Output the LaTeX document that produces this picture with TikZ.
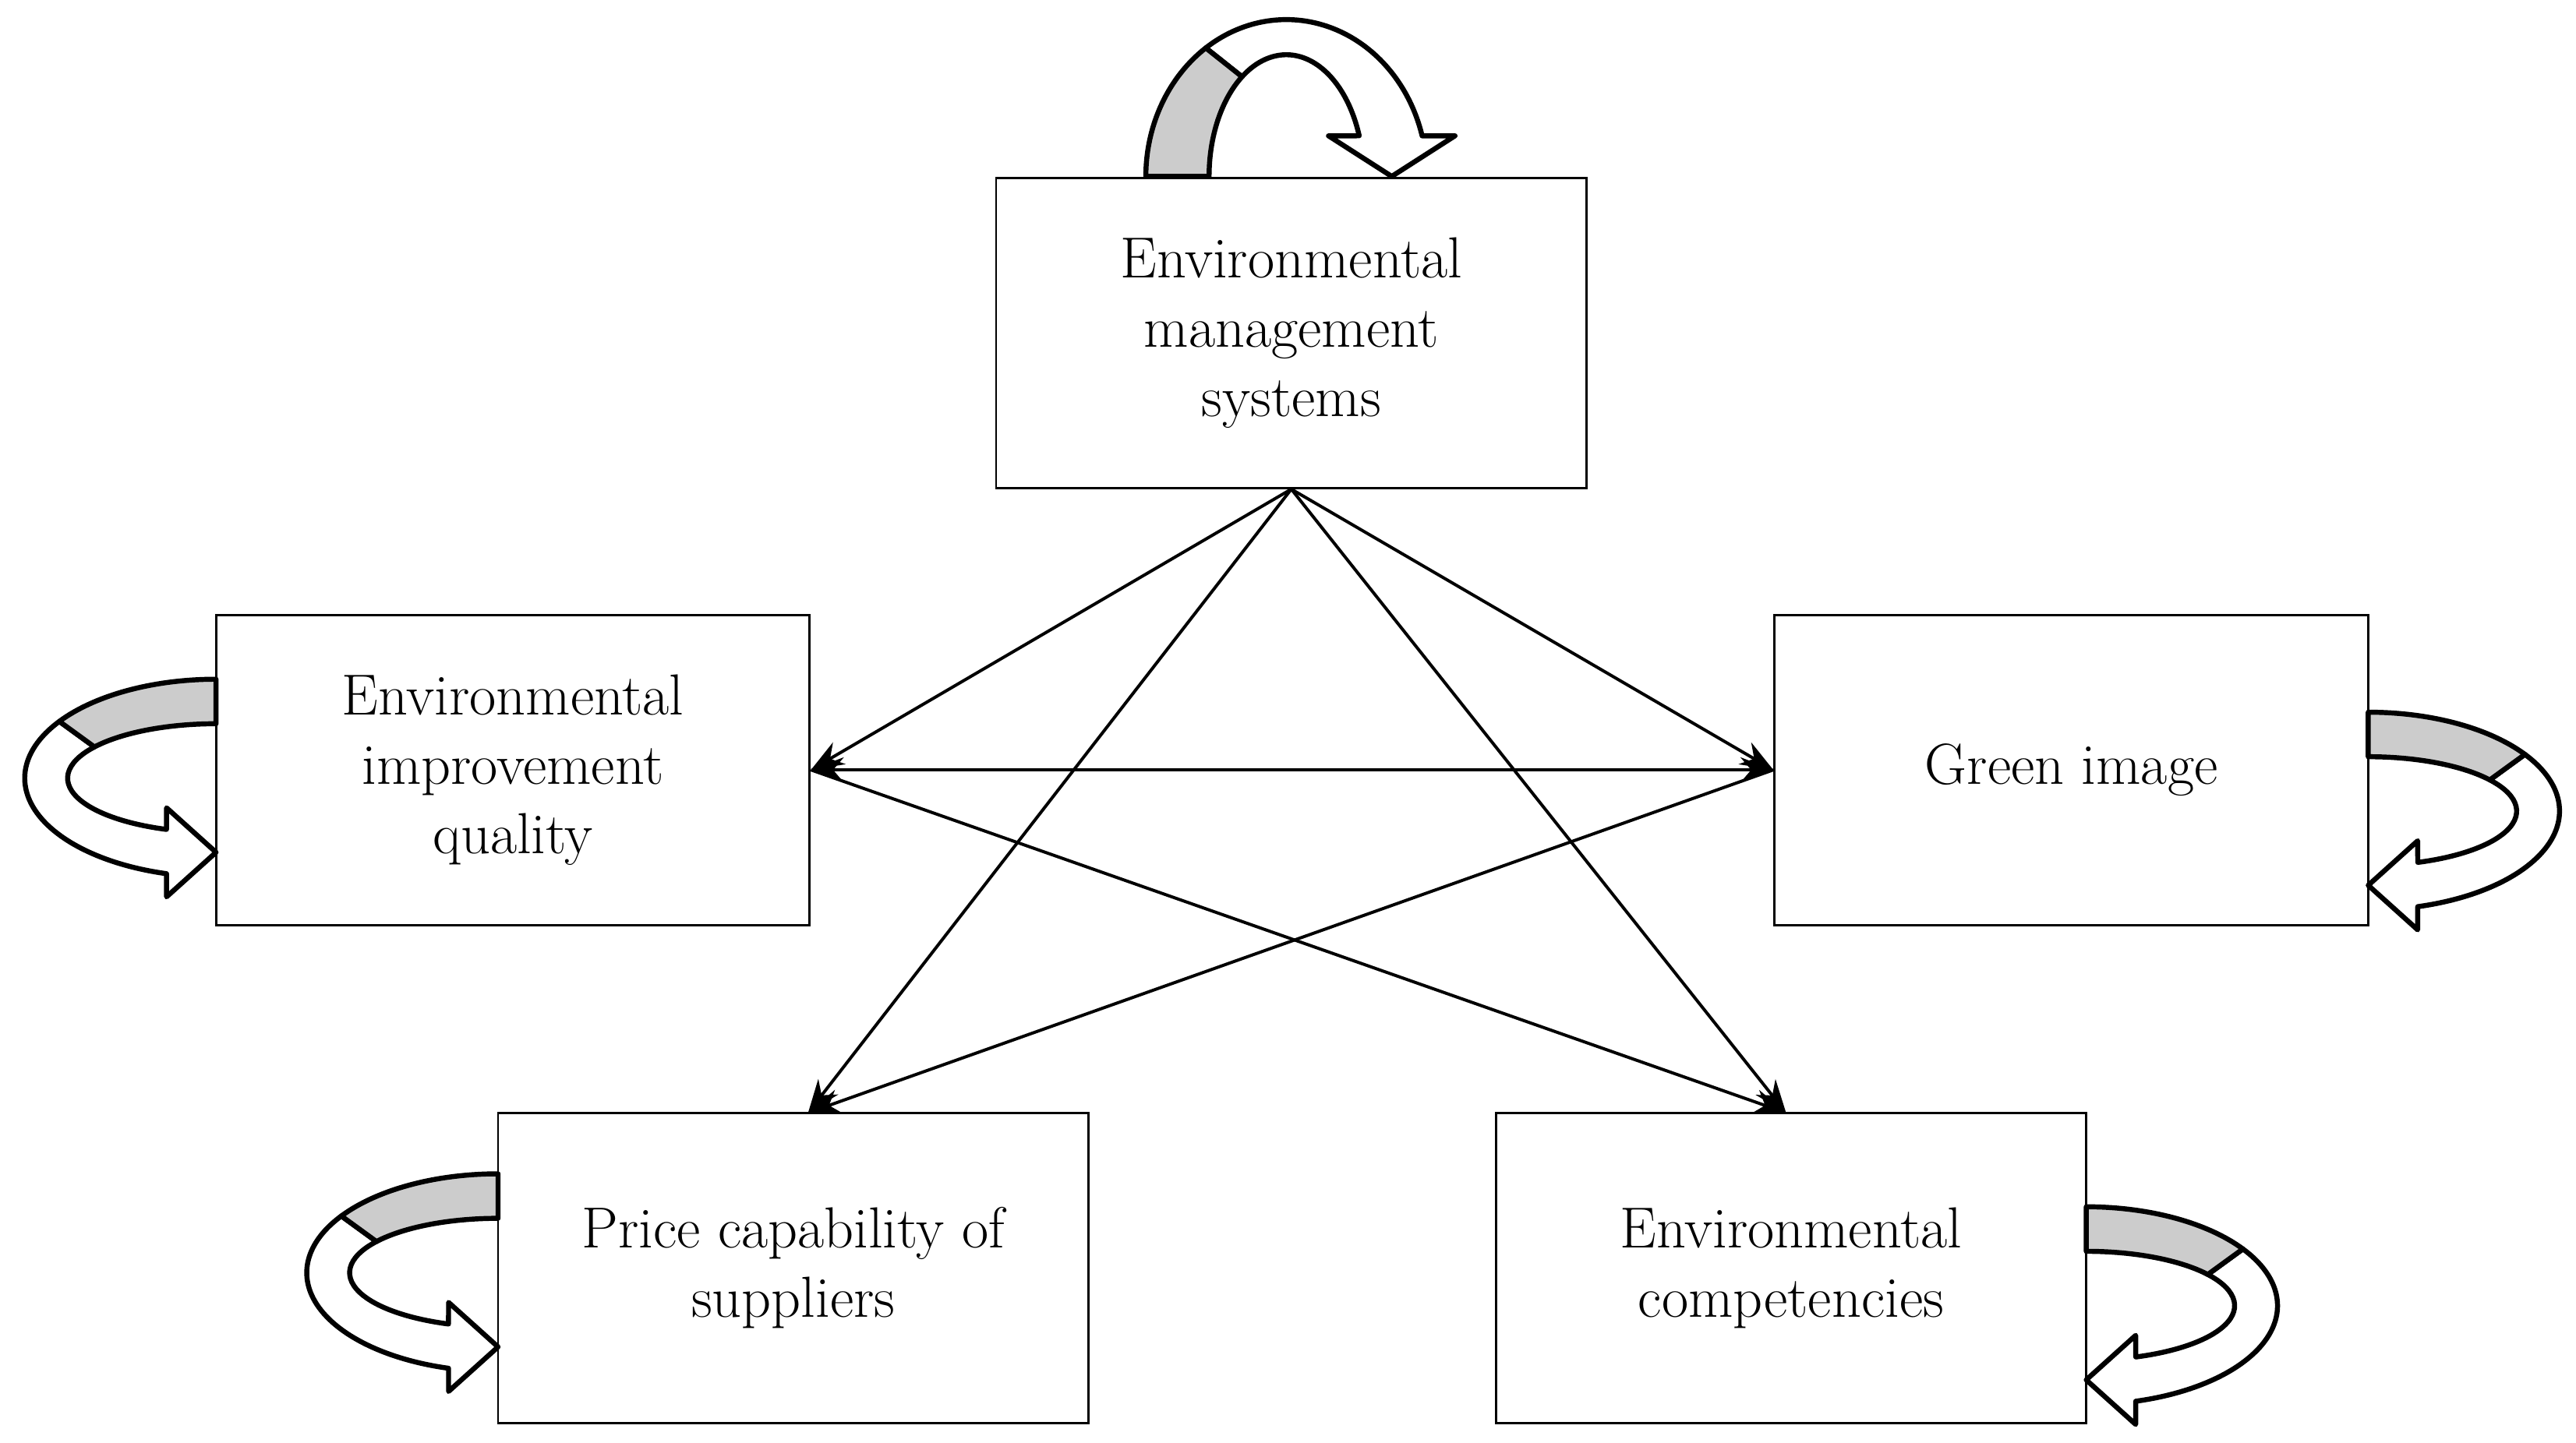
\documentclass[tikz,border=0pt]{standalone}
\usetikzlibrary{arrows.meta}
\begin{document}
\begin{tikzpicture}[x=0.03cm,y=-0.03cm,
  box/.style={draw,line width=1.2pt,inner sep=0pt,align=center,font=\fontsize{30}{36}\selectfont},
  con/.style={line width=1.6pt,-{Stealth[length=17pt,width=13pt]}},
  rib/.style={line width=2.6pt,line join=round}]
\useasboundingbox (0,0) rectangle (1562,875);
\newcommand{\ribbon}{%
  \draw[rib,fill=white] (105:116 and 60) arc[start angle=105,end angle=215,x radius=116,y radius=60]
    -- (215:90 and 33) arc[start angle=215,end angle=109.5,x radius=90,y radius=33]
    -- (-30,18) -- (0,45) -- (-30,72) -- cycle;
  \draw[rib,fill=gray!40] (270:116 and 60) arc[start angle=270,end angle=215,x radius=116,y radius=60]
    -- (215:90 and 33) arc[start angle=215,end angle=270,x radius=90,y radius=33] -- cycle;}
\node[box,minimum width=358*0.03cm,minimum height=188*0.03cm] (ems) at (783,202) {Environmental\\management\\systems};
\node[box,minimum width=360*0.03cm,minimum height=188*0.03cm] (eiq) at (311,467) {Environmental\\improvement\\quality};
\node[box,minimum width=360*0.03cm,minimum height=188*0.03cm] (gi) at (1256,467) {Green image};
\node[box,minimum width=358*0.03cm,minimum height=188*0.03cm] (pcs) at (481,769) {Price capability of\\suppliers};
\node[box,minimum width=358*0.03cm,minimum height=188*0.03cm] (ec) at (1086,769) {Environmental\\competencies};
\coordinate (a) at (ems.south);
\coordinate (l) at (eiq.east);
\coordinate (r) at (gi.west);
\coordinate (p) at (490,675);
\coordinate (q) at (1083,675);
\draw[con] (a) -- (l);
\draw[con] (a) -- (r);
\draw[con] (a) -- (p);
\draw[con] (a) -- (q);
\draw[con,{Stealth[length=17pt,width=13pt]}-{Stealth[length=17pt,width=13pt]}] (l) -- (r);
\draw[con] (r) -- (p);
\draw[con] (l) -- (q);
\begin{scope}[shift={(131,472)}]\ribbon\end{scope}
\begin{scope}[shift={(302,772)}]\ribbon\end{scope}
\begin{scope}[shift={(1436,492)},xscale=-1]\ribbon\end{scope}
\begin{scope}[shift={(1265,792)},xscale=-1]\ribbon\end{scope}
\begin{scope}[shift={(780,107)},cm={0,-1,-1,0,(0,0)}]
  \begin{scope}[xscale=0.82,yscale=1.42]\ribbon\end{scope}
\end{scope}
\end{tikzpicture}
\end{document}
